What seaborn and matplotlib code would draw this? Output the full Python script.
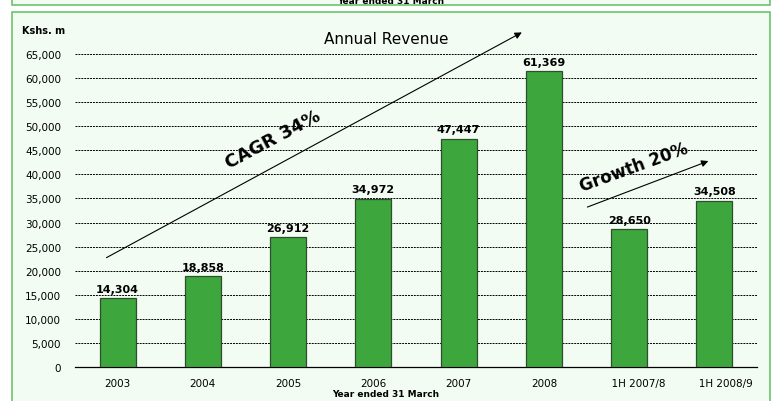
import matplotlib
matplotlib.use("Agg")
import matplotlib.pyplot as plt
import seaborn as sns
import pandas as pd
from matplotlib.patches import Rectangle

categories = ["2003", "2004", "2005", "2006", "2007", "2008", "1H 2007/8", "1H 2008/9"]
values = [14304, 18858, 26912, 34972, 47447, 61369, 28650, 34508]
tick_labels = ["2003", "2004", "2005", "2006", "2007", "2008", "      1H 2007/8", "       1H 2008/9"]
yticks = list(range(0, 65001, 5000))

sns.set_style("white")
plt.rcParams['font.family'] = ['DejaVu Sans']
plt.rcParams['text.color'] = 'black'
plt.rcParams['xtick.color'] = 'black'
plt.rcParams['ytick.color'] = 'black'

W, H = 776, 402
fig = plt.figure(figsize=(W / 100, H / 100), dpi=100)
fig.patch.set_facecolor("white")

def fx(px):
    return px / W

def fy(py):
    return 1 - py / H

# background panels
fig.patches.append(Rectangle((fx(12), fy(6)), fx(770) - fx(12), fy(-6) - fy(6),
                             transform=fig.transFigure, facecolor="#F3FCF3",
                             edgecolor="#6CC46C", lw=1.2, zorder=-5))
fig.text(fx(391), fy(1), "Year ended 31 March", ha="center", va="center",
         fontsize=6.5, fontweight="bold")
fig.patches.append(Rectangle((fx(12), fy(406)), fx(770) - fx(12), fy(13) - fy(406),
                             transform=fig.transFigure, facecolor="#F3FCF3",
                             edgecolor="#6CC46C", lw=1.2, zorder=-5))

ax = fig.add_axes([fx(75), fy(368), fx(757) - fx(75), fy(55) - fy(368)])
ax.set_zorder(5)
ax.set_facecolor("none")

df = pd.DataFrame({"cat": categories, "val": values})
sns.barplot(data=df, x="cat", y="val", color="#3DA63D", saturation=1, width=0.42,
            edgecolor="#2E4F2E", linewidth=0.9, ax=ax, zorder=3)

ax.set_xlim(-0.5, len(categories) - 0.5)
ax.set_ylim(0, 65000)
ax.set_yticks(yticks)
ax.set_yticklabels([f"{v:,}" for v in yticks], fontsize=7.5)
ax.yaxis.grid(True, color="black", linestyle=(0, (2, 1)), linewidth=0.7, zorder=1)
ax.set_axisbelow(True)
ax.tick_params(axis="y", length=0, pad=10)

ax.set_xticks(range(len(categories)))
ax.set_xticklabels(tick_labels, fontsize=7.5)
ax.set_xticks([i - 0.5 for i in range(len(categories) + 1)], minor=True)
ax.tick_params(axis="x", which="major", length=0, pad=8)
ax.tick_params(axis="x", which="minor", length=5, width=0.8, direction="out", color="black")

for s in ["top", "right", "left"]:
    ax.spines[s].set_visible(False)
ax.spines["bottom"].set_color("black")
ax.spines["bottom"].set_linewidth(0.9)
ax.set_xlabel("")
ax.set_ylabel("")

for i, v in enumerate(values):
    ax.text(i, v + 900, f"{v:,}", ha="center", va="bottom", fontsize=8, fontweight="bold")

fig.text(fx(386), fy(395), "Year ended 31 March", ha="center", va="center",
         fontsize=6.5, fontweight="bold")
fig.text(fx(22), fy(31), "Kshs. m", ha="left", va="center", fontsize=7, fontweight="bold")
fig.text(fx(386), fy(40), "Annual Revenue", ha="center", va="center", fontsize=11,
         fontweight="medium")

# trend arrows
ax.annotate("", xy=(4.77, 69760), xytext=(-0.16, 22430),
            arrowprops=dict(arrowstyle="-|>", color="black", lw=0.8, mutation_scale=10),
            annotation_clip=False)
ax.annotate("", xy=(6.96, 42970), xytext=(5.48, 33010),
            arrowprops=dict(arrowstyle="-|>", color="black", lw=0.8, mutation_scale=10),
            annotation_clip=False)
fig.text(fx(273), fy(140), "CAGR 34%", ha="center", va="center", fontsize=13,
         fontweight="bold", rotation=28)
fig.text(fx(634), fy(168), "Growth 20%", ha="center", va="center", fontsize=12,
         fontweight="bold", rotation=20)

fig.savefig("out.png", dpi=100)
